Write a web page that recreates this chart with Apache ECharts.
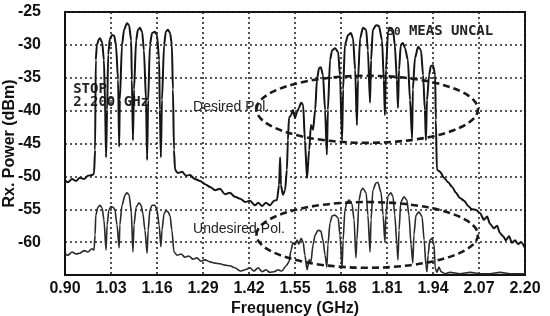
<!DOCTYPE html>
<html><head><meta charset="utf-8">
<script src="https://cdn.jsdelivr.net/npm/echarts@6/dist/echarts.min.js"></script>
<style>html,body{margin:0;padding:0;background:#fff}#c{width:550px;height:316px}</style>
</head><body><div id="c"></div>
<script>
// Tick labels
const xTicks = [0.90, 1.03, 1.16, 1.29, 1.42, 1.55, 1.68, 1.81, 1.94, 2.07, 2.20];
const yTicks = [-65, -60, -55, -50, -45, -40, -35, -30, -25];
const yLabels = [-60, -55, -50, -45, -40, -35, -30, -25];

// Desired polarisation trace [GHz, dBm]
const desiredTrace = [
  [0.900,-50.6],[0.908,-50.9],[0.920,-50.4],[0.931,-50.7],[0.942,-50.2],[0.954,-50.4],[0.965,-49.9],[0.976,-49.8],[0.982,-49.6],
  [0.985,-46.0],[0.987,-32.3],[0.990,-30.0],[0.996,-29.1],[0.999,-29.0],[1.005,-29.6],[1.010,-32.3],[1.013,-38.4],[1.016,-47.1],
  [1.019,-39.9],[1.022,-31.5],[1.027,-29.0],[1.033,-28.5],[1.039,-28.6],[1.044,-30.0],[1.050,-35.3],[1.053,-45.5],
  [1.055,-38.4],[1.061,-30.0],[1.067,-27.7],[1.075,-26.7],[1.081,-27.0],[1.087,-29.3],[1.089,-35.3],[1.092,-44.5],
  [1.095,-36.8],[1.101,-29.3],[1.106,-27.7],[1.112,-27.4],[1.118,-28.0],[1.123,-30.8],[1.129,-38.4],[1.132,-47.5],
  [1.135,-38.4],[1.140,-30.0],[1.146,-28.2],[1.154,-28.0],[1.160,-28.5],[1.166,-32.3],[1.168,-39.9],[1.171,-47.1],
  [1.174,-38.4],[1.180,-30.0],[1.185,-28.0],[1.191,-27.7],[1.197,-28.2],[1.202,-30.0],[1.205,-36.8],[1.208,-46.0],[1.211,-49.0],
  [1.219,-49.5],[1.231,-49.3],[1.242,-49.9],[1.253,-49.8],[1.267,-50.4],[1.282,-50.7],[1.296,-51.2],[1.310,-51.6],[1.324,-52.1],
  [1.338,-51.9],[1.352,-52.7],[1.366,-52.5],[1.380,-53.1],[1.395,-53.4],[1.409,-53.9],[1.423,-53.7],[1.437,-54.4],[1.446,-54.0],
  [1.457,-54.5],[1.468,-54.0],[1.479,-54.4],[1.491,-53.7],[1.499,-53.6],[1.505,-51.3],[1.508,-47.1],[1.510,-51.3],[1.516,-52.8],
  [1.522,-52.1],[1.527,-49.0],[1.530,-44.5],[1.533,-41.1],[1.539,-40.7],[1.544,-39.9],[1.550,-41.1],[1.556,-40.2],[1.561,-39.6],
  [1.567,-38.8],[1.573,-39.1],[1.578,-44.5],[1.584,-50.3],[1.590,-46.0],[1.595,-42.2],[1.601,-42.9],[1.607,-39.9],[1.612,-35.3],
  [1.618,-33.5],[1.623,-33.4],[1.629,-34.6],[1.635,-39.9],[1.640,-46.7],[1.643,-39.9],[1.649,-32.3],[1.655,-30.8],[1.663,-30.5],
  [1.672,-31.1],[1.677,-34.6],[1.683,-44.5],[1.686,-36.8],[1.691,-30.0],[1.700,-28.5],[1.708,-28.2],[1.714,-29.0],[1.720,-33.8],
  [1.725,-42.2],[1.728,-35.3],[1.734,-29.0],[1.742,-27.4],[1.751,-27.7],[1.756,-30.8],[1.762,-38.8],[1.765,-32.3],[1.770,-27.7],
  [1.779,-27.0],[1.787,-27.1],[1.796,-29.3],[1.801,-35.3],[1.804,-40.7],[1.807,-33.8],[1.813,-28.0],[1.818,-27.4],[1.827,-27.7],
  [1.832,-30.0],[1.838,-35.3],[1.841,-39.6],[1.844,-33.8],[1.849,-30.0],[1.855,-29.7],[1.861,-30.5],[1.869,-32.3],[1.875,-38.4],
  [1.881,-44.2],[1.883,-36.8],[1.889,-32.0],[1.898,-30.3],[1.906,-30.8],[1.912,-34.6],[1.917,-39.9],[1.920,-44.5],[1.923,-38.4],
  [1.929,-34.6],[1.934,-33.2],[1.940,-33.1],[1.946,-34.6],[1.948,-41.4],[1.951,-49.0],[1.960,-49.3],[1.971,-50.2],[1.983,-50.9],
  [1.994,-51.6],[2.005,-52.5],[2.016,-53.3],[2.028,-53.7],[2.039,-54.5],[2.050,-55.0],[2.062,-55.1],[2.073,-55.6],[2.084,-56.6],
  [2.093,-56.1],[2.101,-57.2],[2.112,-57.9],[2.121,-57.5],[2.129,-58.6],[2.138,-59.1],[2.146,-59.7],[2.155,-59.1],[2.163,-60.1],
  [2.172,-59.7],[2.180,-60.3],[2.189,-60.0],[2.200,-60.9]
];

// Undesired polarisation trace [GHz, dBm]
const undesiredTrace = [
  [0.900,-61.7],[0.908,-62.0],[0.920,-61.5],[0.931,-61.8],[0.942,-61.7],[0.954,-61.3],[0.965,-61.5],[0.976,-61.0],[0.982,-61.2],
  [0.985,-58.9],[0.987,-55.9],[0.993,-54.7],[0.999,-54.4],[1.005,-54.8],[1.010,-56.6],[1.016,-61.2],
  [1.019,-57.4],[1.024,-55.1],[1.030,-54.6],[1.036,-54.7],[1.041,-55.1],[1.047,-57.4],[1.053,-60.9],
  [1.055,-57.4],[1.061,-54.4],[1.070,-52.8],[1.075,-52.5],[1.081,-52.8],[1.087,-55.1],[1.092,-61.5],
  [1.095,-57.4],[1.101,-54.7],[1.109,-54.0],[1.115,-54.4],[1.120,-55.6],[1.126,-58.2],[1.132,-61.7],
  [1.135,-58.2],[1.140,-55.1],[1.146,-54.4],[1.154,-54.4],[1.160,-55.1],[1.166,-57.4],[1.171,-60.7],
  [1.174,-58.2],[1.180,-55.7],[1.185,-55.2],[1.191,-55.4],[1.197,-56.0],[1.202,-58.2],[1.208,-61.5],
  [1.217,-62.0],[1.228,-61.8],[1.239,-62.3],[1.250,-62.1],[1.262,-62.6],[1.273,-62.4],[1.284,-62.9],[1.296,-62.7],[1.310,-63.0],
  [1.324,-63.2],[1.338,-63.3],[1.352,-63.5],[1.366,-63.6],[1.380,-63.9],[1.395,-64.4],[1.409,-64.2],[1.423,-63.9],[1.434,-64.4],
  [1.446,-63.9],[1.457,-64.5],[1.468,-64.2],[1.479,-64.6],[1.491,-64.5],[1.502,-64.2],[1.513,-64.4],[1.525,-63.6],[1.533,-63.0],
  [1.539,-61.2],[1.544,-60.1],[1.550,-60.4],[1.556,-59.7],[1.561,-60.3],[1.567,-59.4],[1.573,-60.0],[1.578,-62.0],[1.584,-64.2],
  [1.590,-62.7],[1.595,-63.0],[1.601,-60.4],[1.607,-58.9],[1.615,-58.2],[1.623,-58.3],[1.629,-59.7],[1.635,-62.0],[1.640,-63.8],
  [1.643,-60.4],[1.649,-57.1],[1.655,-56.0],[1.663,-55.9],[1.672,-56.3],[1.677,-58.9],[1.683,-63.9],
  [1.686,-59.7],[1.691,-55.1],[1.697,-53.9],[1.703,-53.6],[1.711,-54.2],[1.717,-56.6],[1.722,-62.4],
  [1.725,-59.7],[1.731,-53.6],[1.737,-52.1],[1.742,-51.8],[1.751,-52.5],[1.756,-55.9],[1.762,-61.5],
  [1.765,-56.6],[1.770,-52.1],[1.779,-51.0],[1.784,-50.9],[1.793,-52.4],[1.799,-55.9],[1.804,-60.0],
  [1.807,-55.9],[1.813,-52.9],[1.821,-52.5],[1.827,-53.1],[1.832,-55.9],[1.838,-60.4],[1.841,-62.7],
  [1.844,-58.2],[1.849,-53.9],[1.858,-53.1],[1.866,-53.6],[1.872,-55.9],[1.878,-60.4],[1.883,-63.2],
  [1.886,-58.9],[1.892,-55.9],[1.900,-55.4],[1.909,-56.1],[1.915,-59.7],[1.920,-63.5],[1.923,-64.5],
  [1.926,-62.0],[1.931,-59.7],[1.937,-59.4],[1.943,-60.4],[1.946,-63.9],[1.951,-64.6],[1.957,-63.8],[1.963,-64.5],
  [1.974,-64.8],[1.988,-64.6],[2.016,-64.8],[2.045,-64.6],[2.073,-64.8],[2.101,-64.8],[2.129,-64.6],[2.158,-64.8],[2.200,-64.8]
];

// Annotation anchors in data units [GHz, dBm]
const stopAnchor = [0.923, -37.8];
const markerAnchor = [1.811, -28.0];
const measAnchor = [1.872, -28.0];
const desiredLabelAnchor = [1.262, -39.5];
const undesiredLabelAnchor = [1.262, -58.1];
// Ellipses: centre [GHz, dBm] and radii [GHz, dB]
const desiredEllipse = { center: [1.754, -39.8], radius: [0.313, 5.1] };
const undesiredEllipse = { center: [1.754, -58.9], radius: [0.313, 5.0] };

const chart = echarts.init(document.getElementById('c'), null, { renderer: 'canvas' });
const tickFont = { fontFamily: 'Liberation Sans', fontWeight: 'bold', fontSize: 16, color: '#111' };
const nameFont = { fontFamily: 'Liberation Sans', fontWeight: 'bold', fontSize: 16, color: '#111' };
const gridLine = { show: true, lineStyle: { color: '#222', width: 1.6, type: [2, 3] } };

chart.setOption({
  animation: false,
  backgroundColor: '#fff',
  grid: { left: 65, right: 25, top: 12, bottom: 41, containLabel: false, outerBoundsMode: 'none',
          show: true, borderColor: '#111', borderWidth: 2 },
  xAxis: {
    type: 'value', min: 0.9, max: 2.2,
    name: 'Frequency (GHz)', nameLocation: 'middle', nameGap: 26, nameMoveOverlap: false, nameTextStyle: nameFont,
    axisLine: { show: true, onZero: false, lineStyle: { color: '#111', width: 2 } },
    axisTick: { show: false, customValues: xTicks },
    axisLabel: Object.assign({ customValues: xTicks, margin: 6, formatter: v => v.toFixed(2) }, tickFont),
    splitLine: gridLine
  },
  yAxis: {
    type: 'value', min: -65, max: -25,
    name: 'Rx. Power (dBm)', nameLocation: 'middle', nameGap: 47, nameMoveOverlap: false, nameTextStyle: nameFont,
    axisLine: { show: true, onZero: false, lineStyle: { color: '#111', width: 2 } },
    axisTick: { show: false, customValues: yTicks },
    axisLabel: Object.assign({ customValues: yLabels, margin: 24 }, tickFont),
    splitLine: gridLine
  },
  series: [
    { name: 'Desired Pol.', type: 'line', data: desiredTrace, showSymbol: false, smooth: 0.25, smoothMonotone: 'x',
      lineStyle: { color: '#151515', width: 2 }, z: 3 },
    { name: 'Undesired Pol.', type: 'line', data: undesiredTrace, showSymbol: false, smooth: 0.25, smoothMonotone: 'x',
      lineStyle: { color: '#2a2a2a', width: 1.6 }, z: 3 }
  ]
});

function px(p) { return chart.convertToPixel({ gridIndex: 0 }, p); }
function ellipse(e) {
  const c = px(e.center);
  const r = px([e.center[0] + e.radius[0], e.center[1] + e.radius[1]]);
  return { type: 'ellipse', z: 50, shape: { cx: c[0], cy: c[1], rx: Math.abs(r[0] - c[0]), ry: Math.abs(c[1] - r[1]) },
    style: { fill: 'none', stroke: '#1a1a1a', lineWidth: 2.6, lineDash: [7, 4] } };
}
function label(anchor, text, font, z) {
  const p = px(anchor);
  return { type: 'text', x: p[0], y: p[1], z: z,
    style: { text: text, font: font, fill: '#222', textAlign: 'left', textVerticalAlign: 'middle', lineHeight: 13 } };
}
chart.setOption({
  graphic: [
    label(stopAnchor, 'STOP\n2.200 GHz', 'bold 14px "DejaVu Sans Mono"', 0),
    label(markerAnchor, '30', 'bold 11px "DejaVu Sans Mono"', 0),
    label(measAnchor, 'MEAS UNCAL', 'bold 14px "DejaVu Sans Mono"', 0),
    label(desiredLabelAnchor, 'Desired Pol.', '14px "Liberation Sans"', 40),
    label(undesiredLabelAnchor, 'Undesired Pol.', '14px "Liberation Sans"', 40),
    ellipse(desiredEllipse),
    ellipse(undesiredEllipse)
  ]
});
</script>
</body></html>
